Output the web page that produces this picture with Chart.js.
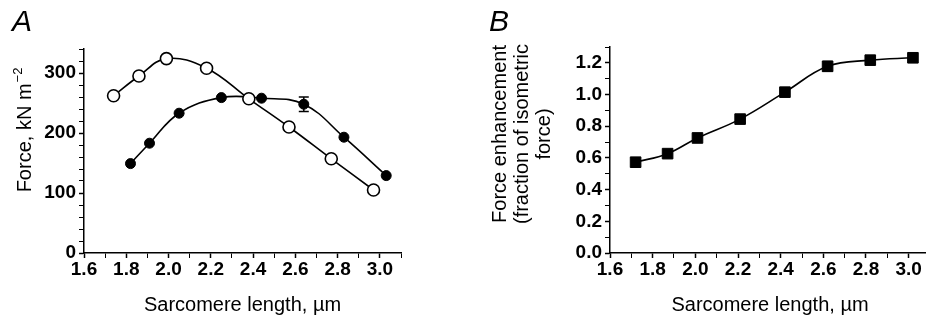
<!DOCTYPE html>
<html>
<head>
<meta charset="utf-8">
<title>Force and sarcomere length</title>
<script src="https://cdn.jsdelivr.net/npm/chart.js@4.4.1/dist/chart.umd.min.js"></script>
<style>
  html, body { margin: 0; padding: 0; background: #fff; overflow: hidden; }
  #wrap { position: relative; width: 926px; height: 320px; overflow: hidden; }
  #forceChart { position: absolute; left: 0; top: 0; }
  #enhChart { position: absolute; left: 460px; top: 0; }
</style>
</head>
<body>
<div id="wrap">
  <canvas id="forceChart" width="460" height="320"></canvas>
  <canvas id="enhChart" width="490" height="320"></canvas>
</div>
<script>
// Panel A: isometric force (open circles) and force after stretch (filled circles)
const slIsometric = [1.74, 1.86, 1.99, 2.18, 2.38, 2.57, 2.77, 2.97];
const forceIsometric = [262, 295, 324, 308, 257, 210, 157, 105];
const slStretch = [1.82, 1.91, 2.05, 2.25, 2.44, 2.64, 2.83, 3.03];
const forceStretch = [149, 183, 233, 259, 258, 248, 193, 129];
const forceStretchErr = [0, 0, 0, 0, 0, 12, 0, 0];

// Panel B: force enhancement as fraction of isometric force
const slEnhancement = [1.72, 1.87, 2.01, 2.21, 2.42, 2.62, 2.82, 3.02];
const enhancement = [0.573, 0.627, 0.726, 0.845, 1.015, 1.178, 1.217, 1.232];
const enhancementErr = [0, 0, 0, 0, 0, 0.03, 0, 0];

// labelled ticks (the rest are minor ticks)
const slTickLabels = ['1.6', '1.8', '2.0', '2.2', '2.4', '2.6', '2.8', '3.0'];
const forceTickLabels = ['0', '100', '200', '300'];
const enhTickLabels = ['0.0', '0.2', '0.4', '0.6', '0.8', '1.0', '1.2'];

const FAMILY = '"Liberation Sans", Arial, sans-serif';
Chart.defaults.color = '#000';
Chart.defaults.font.family = FAMILY;

const toPoints = (xs, ys) => xs.map((x, i) => ({ x: x, y: ys[i] }));

// vertical error bars for datasets carrying an `errors` array
const errorBars = {
  id: 'errorBars',
  afterDatasetsDraw(chart) {
    const ctx = chart.ctx;
    const yScale = chart.scales.y;
    chart.data.datasets.forEach((ds, i) => {
      if (!ds.errors) return;
      const meta = chart.getDatasetMeta(i);
      ds.data.forEach((p, j) => {
        const e = ds.errors[j];
        if (!e) return;
        const x = meta.data[j].x;
        const yTop = yScale.getPixelForValue(p.y + e);
        const yBot = yScale.getPixelForValue(p.y - e);
        ctx.save();
        ctx.strokeStyle = '#000';
        ctx.lineWidth = 1.5;
        ctx.beginPath();
        ctx.moveTo(x, yTop); ctx.lineTo(x, yBot);
        ctx.moveTo(x - 5, yTop); ctx.lineTo(x + 5, yTop);
        ctx.moveTo(x - 5, yBot); ctx.lineTo(x + 5, yBot);
        ctx.stroke();
        ctx.restore();
      });
    });
  }
};

// panel letter and the rotated y-axis title
const panelText = {
  id: 'panelText',
  afterDraw(chart, args, o) {
    const ctx = chart.ctx;
    const titleFont = '20px ' + FAMILY;
    const supFont = '13px ' + FAMILY;
    ctx.save();
    ctx.fillStyle = '#000';
    ctx.font = 'italic 30px ' + FAMILY;
    ctx.textAlign = 'left';
    ctx.textBaseline = 'alphabetic';
    ctx.fillText(o.letter, o.letterX, o.letterY);

    ctx.translate(o.titleX, o.titleY);
    ctx.rotate(-Math.PI / 2);
    ctx.textBaseline = 'middle';
    o.lines.forEach((line, k) => {
      const y = (k - (o.lines.length - 1) / 2) * o.lineGap;
      ctx.font = titleFont;
      const w = ctx.measureText(line).width;
      let supW = 0;
      if (o.sup) {
        ctx.font = supFont;
        supW = ctx.measureText(o.sup).width + 1;
      }
      const x0 = -(w + supW) / 2;
      ctx.font = titleFont;
      ctx.fillText(line, x0, y);
      if (o.sup) {
        ctx.font = supFont;
        ctx.fillText(o.sup, x0 + w + 1, y - 7);
      }
    });
    ctx.restore();
  }
};

const tickFont = { size: 19, weight: 'bold' };

function slAxis(max) {
  return {
    type: 'linear',
    min: 1.6,
    max: max,
    border: { color: '#000', width: 1.5 },
    grid: {
      drawOnChartArea: false,
      tickLength: 5,
      tickColor: '#000',
      tickWidth: (c) => (c.tick && c.tick.label !== '' ? 1.5 : 1)
    },
    ticks: {
      stepSize: 0.1,
      autoSkip: false,
      maxRotation: 0,
      includeBounds: false,
      padding: 0,
      font: tickFont,
      callback: (v) => {
        const s = v.toFixed(1);
        return slTickLabels.includes(s) ? s : '';
      }
    },
    title: {
      display: true,
      text: 'Sarcomere length, \u00b5m',
      font: { size: 20 },
      padding: { top: 3, bottom: 3 }
    },
    afterFit: (scale) => { scale.height = 67; }
  };
}

function yAxisBase(width) {
  return {
    type: 'linear',
    border: { color: '#000', width: 1.5 },
    grid: {
      drawOnChartArea: false,
      tickLength: 5,
      tickColor: '#000',
      tickWidth: (c) => (c.tick && c.tick.label !== '' ? 1.5 : 1)
    },
    afterFit: (scale) => { scale.width = width; }
  };
}

const forceY = yAxisBase(84);
forceY.min = 0;
forceY.max = 340;
forceY.ticks = {
  stepSize: 20,
  autoSkip: false,
  includeBounds: false,
  padding: 3,
  font: tickFont,
  callback: (v) => {
    const s = String(Math.round(v));
    return forceTickLabels.includes(s) ? s : '';
  }
};

new Chart(document.getElementById('forceChart'), {
  type: 'line',
  data: {
    datasets: [
      {
        label: 'Isometric',
        data: toPoints(slIsometric, forceIsometric),
        borderColor: '#000',
        borderWidth: 1.6,
        tension: 0.4,
        pointStyle: 'circle',
        pointRadius: 6,
        pointBorderWidth: 1.6,
        pointBackgroundColor: '#fff',
        pointBorderColor: '#000'
      },
      {
        label: 'After stretch',
        data: toPoints(slStretch, forceStretch),
        errors: forceStretchErr,
        borderColor: '#000',
        borderWidth: 1.6,
        tension: 0.4,
        pointStyle: 'circle',
        pointRadius: 5,
        pointBorderWidth: 1,
        pointBackgroundColor: '#000',
        pointBorderColor: '#000'
      }
    ]
  },
  options: {
    responsive: false,
    animation: false,
    events: [],
    layout: { padding: { left: 0, top: 49, right: 59, bottom: 0 } },
    plugins: {
      legend: { display: false },
      tooltip: { enabled: false },
      panelText: {
        letter: 'A', letterX: 12, letterY: 31,
        titleX: 25, titleY: 130, lineGap: 22,
        lines: ['Force, kN m'], sup: '\u22122'
      }
    },
    scales: { x: slAxis(3.1), y: forceY }
  },
  plugins: [errorBars, panelText]
});

const enhY = yAxisBase(150);
enhY.min = 0;
enhY.max = 1.3;
enhY.ticks = {
  stepSize: 0.1,
  autoSkip: false,
  includeBounds: false,
  padding: 3,
  font: tickFont,
  callback: (v) => {
    const s = v.toFixed(1);
    return enhTickLabels.includes(s) ? s : '';
  }
};

new Chart(document.getElementById('enhChart'), {
  type: 'line',
  data: {
    datasets: [
      {
        label: 'Force enhancement',
        data: toPoints(slEnhancement, enhancement),
        errors: enhancementErr,
        borderColor: '#000',
        borderWidth: 1.6,
        tension: 0.4,
        pointStyle: 'rect',
        pointRadius: 7.5,
        pointBorderWidth: 1,
        pointBackgroundColor: '#000',
        pointBorderColor: '#000'
      }
    ]
  },
  options: {
    responsive: false,
    animation: false,
    events: [],
    layout: { padding: { left: 0, top: 47, right: 20, bottom: 0 } },
    plugins: {
      legend: { display: false },
      tooltip: { enabled: false },
      panelText: {
        letter: 'B', letterX: 29, letterY: 31,
        titleX: 62, titleY: 134, lineGap: 22,
        lines: ['Force enhancement', '(fraction of isometric', 'force)']
      }
    },
    scales: { x: slAxis(3.1), y: enhY }
  },
  plugins: [errorBars, panelText]
});
</script>
</body>
</html>
